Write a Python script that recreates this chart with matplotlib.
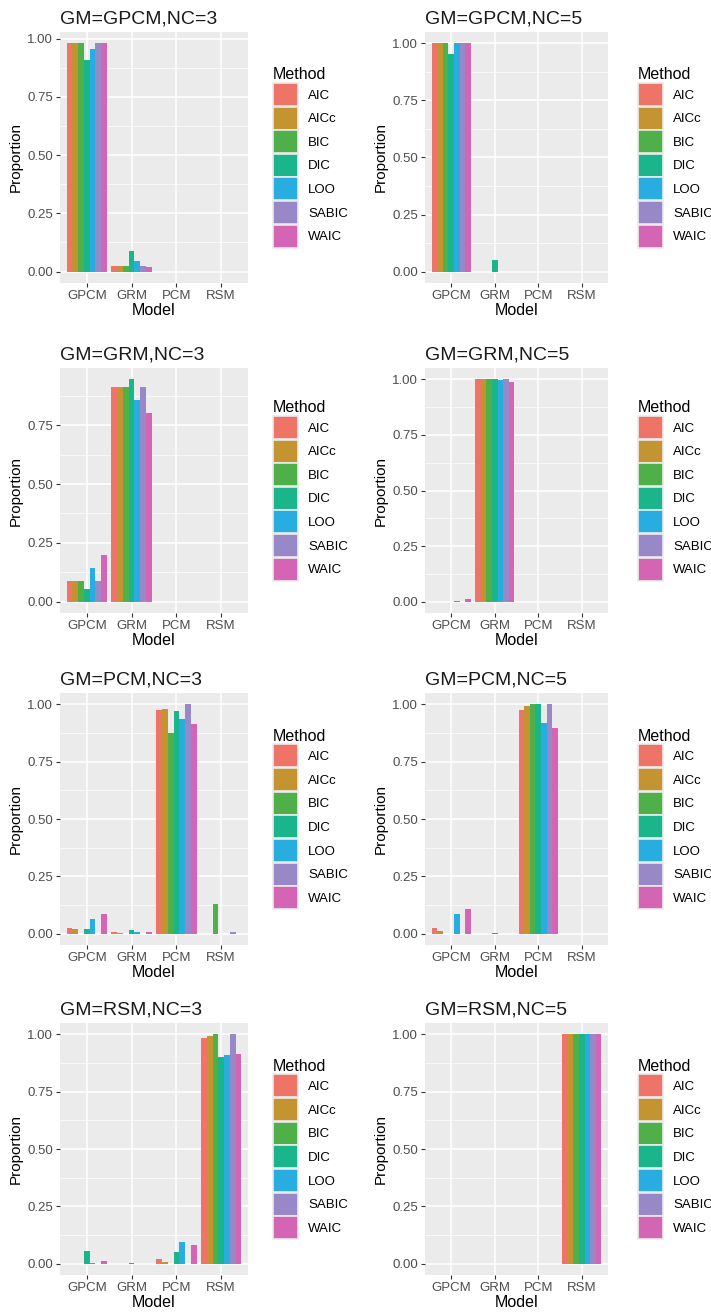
import numpy as np
import matplotlib
matplotlib.use("Agg")
import matplotlib.pyplot as plt
from matplotlib.ticker import FixedLocator
from matplotlib.patches import Patch

plt.rcParams['font.family'] = ['Liberation Sans', 'DejaVu Sans']

models = ["GPCM", "GRM", "PCM", "RSM"]
methods = ["AIC", "AICc", "BIC", "DIC", "LOO", "SABIC", "WAIC"]
colors = ["#EE7468", "#C39430", "#4FAF48", "#1BB58C", "#27ADE0", "#9988C8", "#D465B5"]

# proportions: one row per method, one column per model
gpcm_nc3 = [[0.98, 0.025, 0, 0],
            [0.98, 0.025, 0, 0],
            [0.98, 0.025, 0, 0],
            [0.91, 0.09, 0, 0],
            [0.955, 0.045, 0, 0],
            [0.98, 0.025, 0, 0],
            [0.98, 0.02, 0, 0]]
gpcm_nc5 = [[1.0, 0, 0, 0],
            [1.0, 0, 0, 0],
            [1.0, 0, 0, 0],
            [0.955, 0.05, 0, 0],
            [1.0, 0, 0, 0],
            [1.0, 0, 0, 0],
            [1.0, 0, 0, 0]]
grm_nc3 = [[0.09, 0.91, 0, 0],
           [0.09, 0.91, 0, 0],
           [0.09, 0.91, 0, 0],
           [0.055, 0.945, 0, 0],
           [0.145, 0.855, 0, 0],
           [0.09, 0.91, 0, 0],
           [0.2, 0.8, 0, 0]]
grm_nc5 = [[0, 1.0, 0, 0],
           [0, 1.0, 0, 0],
           [0, 1.0, 0, 0],
           [0, 1.0, 0, 0],
           [0.003, 0.997, 0, 0],
           [0, 1.0, 0, 0],
           [0.012, 0.988, 0, 0]]
pcm_nc3 = [[0.026, 0.007, 0.974, 0],
           [0.022, 0.003, 0.98, 0],
           [0, 0, 0.874, 0.13],
           [0.022, 0.015, 0.97, 0],
           [0.062, 0.007, 0.937, 0],
           [0, 0, 1.0, 0.005],
           [0.087, 0.005, 0.916, 0]]
pcm_nc5 = [[0.025, 0, 0.977, 0],
           [0.01, 0, 0.992, 0],
           [0, 0, 1.0, 0],
           [0, 0.004, 1.0, 0],
           [0.087, 0, 0.918, 0],
           [0, 0, 1.0, 0],
           [0.109, 0, 0.897, 0]]
rsm_nc3 = [[0, 0, 0.019, 0.984],
           [0, 0, 0.007, 0.993],
           [0, 0, 0, 1.0],
           [0.055, 0.004, 0.052, 0.902],
           [0.003, 0, 0.092, 0.912],
           [0, 0, 0, 1.0],
           [0.012, 0, 0.08, 0.915]]
rsm_nc5 = [[0, 0, 0, 1.0]] * 7

panels = [("GM=GPCM,NC=3", gpcm_nc3), ("GM=GPCM,NC=5", gpcm_nc5),
          ("GM=GRM,NC=3", grm_nc3), ("GM=GRM,NC=5", grm_nc5),
          ("GM=PCM,NC=3", pcm_nc3), ("GM=PCM,NC=5", pcm_nc5),
          ("GM=RSM,NC=3", rsm_nc3), ("GM=RSM,NC=5", rsm_nc5)]

W, H = 711, 1312
fig = plt.figure(figsize=(W / 100, H / 100), dpi=100)

# pixel boxes of the plot panels: (left, right) per column, (top, bottom) per row
cols = [(60, 248), (425, 608)]
rows = [(32, 283), (368, 613), (693, 945), (1023, 1275)]
legend_x = [273, 638]

def box(l, r, t, b):
    return [l / W, 1 - b / H, (r - l) / W, (b - t) / H]

x = np.arange(1, len(models) + 1)
bw = 0.9 / len(methods)

for i, (title, data) in enumerate(panels):
    r, c = divmod(i, 2)
    (l, rr), (t, b) = cols[c], rows[r]
    ax = fig.add_axes(box(l, rr, t, b))
    ax.set_facecolor("#EBEBEB")
    vals = np.array(data)
    for k, m in enumerate(methods):
        ax.bar(x - 0.45 + bw * (k + 0.5), vals[k], width=bw,
               color=colors[k], linewidth=0, zorder=3)
    top = vals.max()
    pad = 0.05 * top
    ax.set_ylim(-pad, top + pad)
    ax.set_xlim(0.4, 4.6)
    ax.set_xticks(x)
    ax.set_xticklabels(models)
    yt = [v for v in [0, 0.25, 0.5, 0.75, 1.0] if v <= top + pad]
    ax.set_yticks(yt)
    ax.set_yticklabels([f"{v:.2f}" for v in yt])
    ax.yaxis.set_minor_locator(FixedLocator([0.125, 0.375, 0.625, 0.875]))
    ax.grid(True, which="major", color="white", linewidth=1.1, zorder=0)
    ax.grid(True, which="minor", axis="y", color="white", linewidth=0.5, zorder=0)
    ax.set_axisbelow(True)
    for s in ax.spines.values():
        s.set_visible(False)
    ax.tick_params(which="major", length=3, width=0.8, color="#333333",
                   labelsize=9.5, labelcolor="#4D4D4D", pad=2)
    ax.tick_params(which="minor", length=0)
    ax.set_xlabel("Model", fontsize=11.5, labelpad=1)
    ax.set_ylabel("Proportion", fontsize=11, labelpad=3)
    ax.set_title(title, fontsize=14, loc="left", pad=6, color="#1A1A1A")

    # legend
    handles = [Patch(facecolor=col, edgecolor="#EBEBEB", linewidth=1.2) for col in colors]
    cy = (t + b) / 2
    leg = fig.legend(handles, methods, title="Method",
                     loc="center left",
                     bbox_to_anchor=(legend_x[c] / W, 1 - cy / H),
                     frameon=False, fontsize=9.5, title_fontsize=11.5,
                     handlelength=1.9, handleheight=2.3, handletextpad=0.75,
                     labelspacing=0.05, borderpad=0, borderaxespad=0)
    leg._legend_box.align = "left"

fig.savefig("out.png", dpi=100)
